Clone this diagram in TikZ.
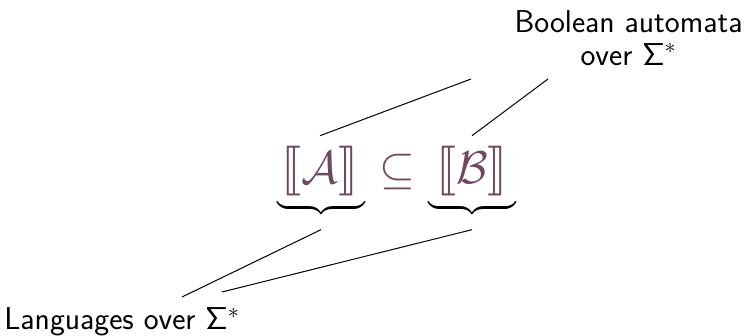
\documentclass[tikz,border=0pt]{standalone}
\usepackage{fix-cm}
\usepackage{amsmath,amssymb,stmaryrd}
\usepackage{xcolor}
\usetikzlibrary{positioning}
\definecolor{semPlum}{RGB}{110,72,98}
\tikzset{
  lbl/.style={font=\sffamily\fontsize{15.8}{16.5}\selectfont,inner sep=0pt,align=center},
  sem/.style={text=semPlum,font=\fontsize{23}{28}\selectfont,inner sep=0pt},
  brc/.style={font=\large,inner sep=0pt},
  lnk/.style={line width=0.5pt}
}

\begin{document}
\begin{tikzpicture}[x=0.5pt,y=-0.5pt]
\useasboundingbox (0,0) rectangle (745,336);
\node[lbl,anchor=north east] (autlbl) at (743,10) {Boolean automata\\over $\mathsf{\Sigma}^*$};
\node[lbl,anchor=base west] (langlbl) at (4,330) {Languages over $\mathsf{\Sigma}^*$};
\node[sem] (semA) at (320,171) {$\llbracket\mathcal{A}\rrbracket$};
\node[sem] (sub) at (397,172) {$\subseteq$};
\node[sem] (semB) at (472,171) {$\llbracket\mathcal{B}\rrbracket$};
\node[brc,anchor=north] (brA) at (321,200) {$\underbrace{\hspace{44pt}}$};
\node[brc,anchor=north] (brB) at (472,200) {$\underbrace{\hspace{44pt}}$};
\coordinate (autA) at (471,79);
\coordinate (autB) at (548,79);
\coordinate (langA) at (182,297);
\coordinate (langB) at (222,292);
\draw[lnk] ([yshift=5pt]semA.north) -- (autA);
\draw[lnk] ([yshift=5pt]semB.north) -- (autB);
\draw[lnk] ([yshift=-7pt]brA.south) -- (langA);
\draw[lnk] ([yshift=-7pt]brB.south) -- (langB);
\end{tikzpicture}
\end{document}
